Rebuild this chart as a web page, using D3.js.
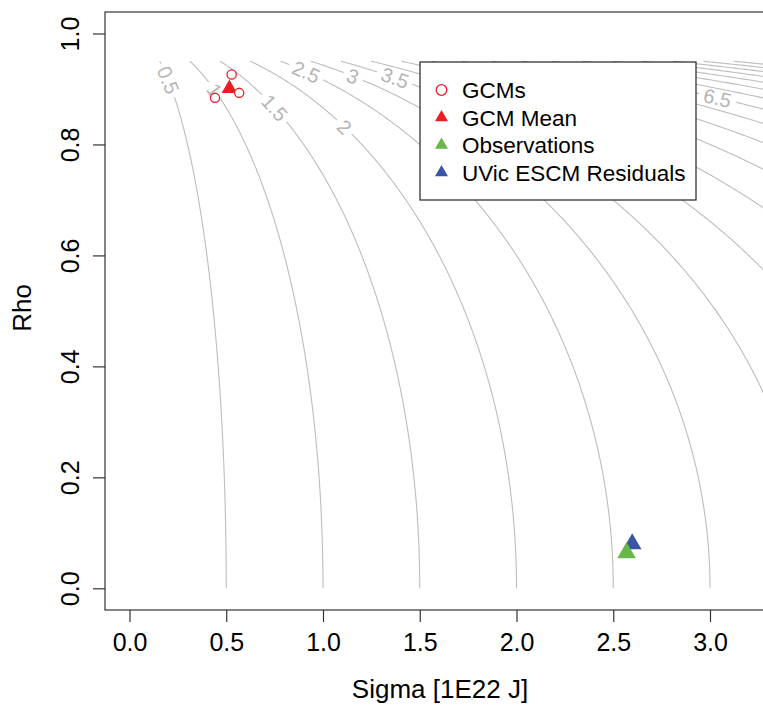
<!DOCTYPE html>
<html>
<head>
<meta charset="utf-8">
<script src="https://cdn.jsdelivr.net/npm/d3@7"></script>
<style>
  html, body { margin: 0; padding: 0; background: #fff; }
  svg { display: block; font-family: "Liberation Sans", Arial, Helvetica, sans-serif; }
</style>
</head>
<body>
<svg id="chart" width="763" height="705"></svg>
<script>
// ---------------- data ----------------
const xTicks = [0.0, 0.5, 1.0, 1.5, 2.0, 2.5, 3.0];
const yTicks = [0.0, 0.2, 0.4, 0.6, 0.8, 1.0];
const contourLevels = [0.5, 1, 1.5, 2, 2.5, 3, 3.5, 4, 4.5, 5, 5.5, 6, 6.5, 7, 7.5, 8, 8.5, 9, 9.5, 10, 10.5, 11];
const labelLevels = [0.5, 1, 1.5, 2, 2.5, 3, 3.5, 4, 4.5, 5, 5.5, 6, 6.5];
const labelRho    = [0.916, 0.898, 0.866, 0.8315, 0.931, 0.923, 0.92, 0.912, 0.908, 0.904, 0.9, 0.895, 0.884];
const rhoGridMax = 0.95;

const gcmSigma = [0.528, 0.442, 0.567];
const gcmRho   = [0.926, 0.884, 0.893];
const gcmMeanSigma = [0.516];
const gcmMeanRho   = [0.901];
const obsSigma = [2.569];
const obsRho   = [0.064];
const uvicSigma = [2.598];
const uvicRho   = [0.080];

const legendLabels = ["GCMs", "GCM Mean", "Observations", "UVic ESCM Residuals"];

// ---------------- layout ----------------
const svg = d3.select("#chart");
const box = {left: 105, top: 12, right: 800, bottom: 610};
const x = d3.scaleLinear().domain([0, 3]).range([129.5, 710]);
const y = d3.scaleLinear().domain([0, 1]).range([588.3, 33.5]);

const RED = "#ec1c24", GREEN = "#67b846", BLUE = "#3a55a5";
const GRAY = "#bdbdbd";
const FONT = "Liberation Sans, Arial, Helvetica, sans-serif";

svg.append("defs").append("clipPath").attr("id", "clip")
  .append("rect").attr("x", box.left).attr("y", box.top)
  .attr("width", box.right - box.left).attr("height", box.bottom - box.top);

const plot = svg.append("g").attr("clip-path", "url(#clip)");

// ---------------- contours: sigma / sqrt(1 - rho^2) = c ----------------
const lineGen = d3.line().x(d => d[0]).y(d => d[1]);
const labelsG = plot.append("g");
const linesG = plot.append("g");

contourLevels.forEach(c => {
  const N = 600;
  const tMax = Math.asin(rhoGridMax);
  const pts = [];
  for (let i = 0; i <= N; i++) {
    const t = tMax * i / N;
    pts.push([x(c * Math.cos(t)), y(Math.sin(t))]);
  }
  const li = labelLevels.indexOf(c);
  let segments = [pts];
  if (li >= 0) {
    const r = labelRho[li];
    const t = Math.asin(r);
    const px = x(c * Math.cos(t)), py = y(r);
    const dx = (x(c) - x(0)) * (-Math.sin(t));
    const dy = -(y(0) - y(1)) * Math.cos(t);
    let ang = Math.atan2(dy, dx) * 180 / Math.PI;
    if (ang > 90) ang -= 180;
    if (ang <= -90) ang += 180;
    const txt = labelsG.append("text")
      .attr("transform", `translate(${px},${py}) rotate(${ang})`)
      .attr("text-anchor", "middle")
      .attr("dy", "0.36em")
      .attr("font-size", 20)
      .attr("fill", "#b5b5b5")
      .text(String(c));
    const w = txt.node().getComputedTextLength();
    const a = ang * Math.PI / 180;
    const ca = Math.cos(a), sa = Math.sin(a);
    segments = [];
    let cur = [];
    pts.forEach(p => {
      const ux = (p[0] - px) * ca + (p[1] - py) * sa;
      const uy = -(p[0] - px) * sa + (p[1] - py) * ca;
      const inGap = Math.abs(ux) < w / 2 + 4 && Math.abs(uy) < 11;
      if (inGap) { if (cur.length > 1) segments.push(cur); cur = []; }
      else cur.push(p);
    });
    if (cur.length > 1) segments.push(cur);
  }
  segments.forEach(s => {
    linesG.append("path").attr("d", lineGen(s))
      .attr("fill", "none").attr("stroke", GRAY).attr("stroke-width", 1.1);
  });
});

// ---------------- points ----------------
function triPath(r) {
  const hw = 0.866 * r;
  return `M0,${-r}L${hw},${r / 2}L${-hw},${r / 2}Z`;
}
const pts = svg.append("g").attr("clip-path", "url(#clip)");
pts.selectAll(".mean").data(gcmMeanSigma).enter().append("path")
  .attr("transform", (d, i) => `translate(${x(d)},${y(gcmMeanRho[i])})`)
  .attr("d", triPath(8.9)).attr("fill", RED);
pts.selectAll(".gcm").data(gcmSigma).enter().append("circle")
  .attr("cx", d => x(d)).attr("cy", (d, i) => y(gcmRho[i]))
  .attr("r", 4.6).attr("fill", "#fff").attr("stroke", RED).attr("stroke-width", 1.3);
pts.selectAll(".uvic").data(uvicSigma).enter().append("path")
  .attr("transform", (d, i) => `translate(${x(d)},${y(uvicRho[i])})`)
  .attr("d", triPath(10.7)).attr("fill", BLUE);
pts.selectAll(".obs").data(obsSigma).enter().append("path")
  .attr("transform", (d, i) => `translate(${x(d)},${y(obsRho[i])})`)
  .attr("d", triPath(10.7)).attr("fill", GREEN);

// ---------------- box & axes ----------------
svg.append("rect").attr("x", box.left).attr("y", box.top)
  .attr("width", box.right - box.left).attr("height", box.bottom - box.top)
  .attr("fill", "none").attr("stroke", "#333").attr("stroke-width", 1.2);

const xAxis = svg.append("g").attr("transform", `translate(0,${box.bottom})`)
  .call(d3.axisBottom(x).tickValues(xTicks).tickFormat(d3.format(".1f")).tickSize(12).tickPadding(11));
xAxis.select(".domain").remove();
xAxis.selectAll("line").attr("stroke", "#333").attr("stroke-width", 1.2);
xAxis.selectAll("text").attr("font-size", 25).attr("fill", "#000").attr("font-family", FONT);

const yAxis = svg.append("g").attr("transform", `translate(${box.left},0)`)
  .call(d3.axisLeft(y).tickValues(yTicks).tickFormat(d3.format(".1f")).tickSize(12));
yAxis.select(".domain").remove();
yAxis.selectAll("line").attr("stroke", "#333").attr("stroke-width", 1.2);
yAxis.selectAll("text")
  .attr("x", null).attr("dy", null)
  .attr("transform", "rotate(-90)")
  .attr("y", -26).attr("text-anchor", "middle")
  .attr("font-size", 25).attr("fill", "#000").attr("font-family", FONT);

svg.append("text").attr("x", 440).attr("y", 698).attr("text-anchor", "middle")
  .attr("font-size", 26).text("Sigma [1E22 J]");
svg.append("text").attr("transform", "translate(31,308) rotate(-90)")
  .attr("text-anchor", "middle").attr("font-size", 26).text("Rho");

// ---------------- legend ----------------
const lg = svg.append("g");
lg.append("rect").attr("x", 420).attr("y", 62).attr("width", 276).attr("height", 138)
  .attr("fill", "#fff").attr("stroke", "#222").attr("stroke-width", 1.2);
const rowY = d3.scalePoint().domain(legendLabels).range([90, 172.5]);
legendLabels.forEach((lab, i) => {
  const cy = rowY(lab);
  if (i === 0) {
    lg.append("circle").attr("cx", 441.5).attr("cy", cy).attr("r", 5.3)
      .attr("fill", "none").attr("stroke", RED).attr("stroke-width", 1.3);
  } else {
    lg.append("path").attr("transform", `translate(441.5,${cy})`)
      .attr("d", triPath(7.5)).attr("fill", [RED, GREEN, BLUE][i - 1]);
  }
  lg.append("text").attr("x", 462).attr("y", cy).attr("dy", "0.36em")
    .attr("font-size", 22.5).text(lab);
});
</script>
</body>
</html>
